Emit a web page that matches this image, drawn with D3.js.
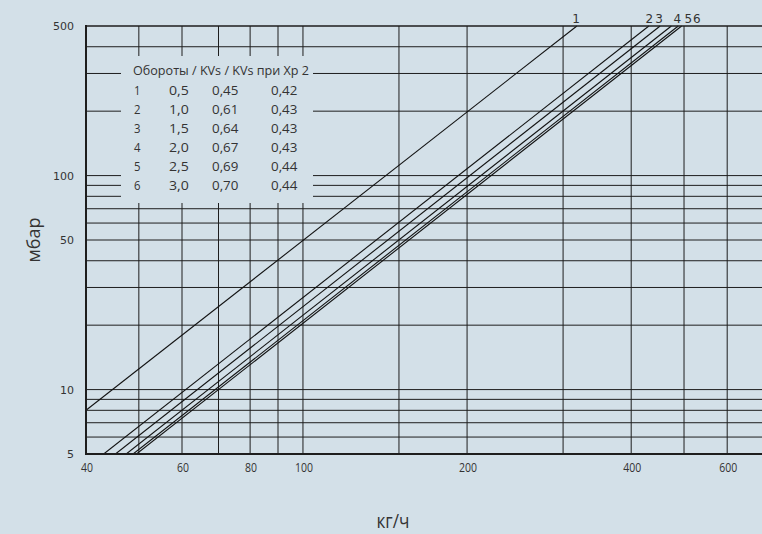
<!DOCTYPE html>
<html>
<head>
<meta charset="utf-8">
<script src="https://cdn.jsdelivr.net/npm/d3@7"></script>
<style>
  html, body { margin: 0; padding: 0; background: #d3e0e8; }
  svg { display: block; }
</style>
</head>
<body>
<svg id="chart" width="762" height="534"></svg>
<script>
// ---- data ----
const xDomain = [40, 695];          // кг/ч
const yDomain = [5, 500];           // мбар
const xGridValues = [50, 60, 70, 80, 90, 100, 150, 200, 300, 400, 500, 600];
const yGridValues = [6, 7, 8, 9, 10, 20, 30, 40, 50, 60, 70, 80, 90, 100, 200, 300, 400];
const xTickLabels = [40, 60, 80, 100, 200, 400, 600];
const yTickLabels = [5, 10, 50, 100, 500];

const seriesNames = ["1", "2", "3", "4", "5", "6"];
const series1 = [[40, 8.0], [318, 500]];
const series2 = [[43.1, 5], [431, 500]];
const series3 = [[45.3, 5], [452, 500]];
const series4 = [[47.4, 5], [474, 500]];
const series5 = [[48.8, 5], [488, 500]];
const series6 = [[49.5, 5], [495, 500]];
const seriesLabelQ = [317, 432, 450, 486, 509, 528];

const legendHeader = "Обороты / KVs / KVs при Xp 2";
const legendTurns = ["0,5", "1,0", "1,5", "2,0", "2,5", "3,0"];
const legendKvs = ["0,45", "0,61", "0,64", "0,67", "0,69", "0,70"];
const legendKvsXp2 = ["0,42", "0,43", "0,43", "0,43", "0,44", "0,44"];

const xTitle = "кг/ч";
const yTitle = "мбар";

// ---- drawing ----
const W = 762, H = 534;
const plot = { left: 86, right: 762, top: 26, bottom: 454 };
const bg = "#d3e0e8";
const ink = "#1e1e1e";
const textCol = "#333";

const svg = d3.select("#chart");
svg.append("rect").attr("width", W).attr("height", H).attr("fill", bg);

const x = d3.scaleLog().domain(xDomain).range([plot.left, plot.right]);
const y = d3.scaleLog().domain(yDomain).range([plot.bottom, plot.top]);

svg.append("defs").append("clipPath").attr("id", "plotclip")
  .append("rect").attr("x", plot.left).attr("y", plot.top - 1)
  .attr("width", plot.right - plot.left).attr("height", plot.bottom - plot.top + 1);

const grid = svg.append("g");
grid.selectAll("line.h").data(yGridValues).join("line")
  .attr("x1", plot.left).attr("x2", plot.right)
  .attr("y1", d => y(d)).attr("y2", d => y(d))
  .attr("stroke", ink).attr("stroke-width", 1);
grid.selectAll("line.v").data(xGridValues).join("line")
  .attr("x1", d => x(d)).attr("x2", d => x(d))
  .attr("y1", plot.top).attr("y2", plot.bottom)
  .attr("stroke", ink).attr("stroke-width", 1);

// legend panel hides the grid behind it
const legX0 = 121, legX1 = 313, legY0 = 56, legY1 = 203;
svg.append("rect").attr("x", legX0).attr("y", legY0)
  .attr("width", legX1 - legX0).attr("height", legY1 - legY0).attr("fill", bg);

// series lines
const allSeries = [series1, series2, series3, series4, series5, series6];
const lineGen = d3.line().x(d => x(d[0])).y(d => y(d[1]));
svg.append("g").attr("clip-path", "url(#plotclip)")
  .selectAll("path").data(allSeries).join("path")
  .attr("d", lineGen).attr("fill", "none")
  .attr("stroke", "#111").attr("stroke-width", 1.1);

// axes frame (left, bottom, top)
svg.append("line").attr("x1", plot.left).attr("x2", plot.left)
  .attr("y1", plot.top - 1).attr("y2", plot.bottom + 1)
  .attr("stroke", ink).attr("stroke-width", 2);
svg.append("line").attr("x1", plot.left - 1).attr("x2", plot.right)
  .attr("y1", plot.bottom).attr("y2", plot.bottom)
  .attr("stroke", ink).attr("stroke-width", 2);
svg.append("line").attr("x1", plot.left - 1).attr("x2", plot.right)
  .attr("y1", y(500)).attr("y2", y(500))
  .attr("stroke", ink).attr("stroke-width", 1.6);

// y tick labels
svg.append("g").selectAll("text").data(yTickLabels).join("text")
  .attr("x", 74).attr("y", d => y(d) + 4)
  .attr("text-anchor", "end")
  .attr("font-family", "DejaVu Sans, sans-serif").attr("font-size", 11)
  .attr("fill", textCol).text(d => d);

// x tick labels (condensed)
svg.append("g").selectAll("text").data(xTickLabels).join("text")
  .attr("x", d => x(d) + 1).attr("y", 472)
  .attr("text-anchor", "middle")
  .attr("font-family", "Open Sans, sans-serif").attr("font-size", 13)
  .attr("textLength", d => String(d).length * 6)
  .attr("lengthAdjust", "spacingAndGlyphs")
  .attr("fill", textCol).text(d => d);

// curve labels
svg.append("g").selectAll("text").data(seriesNames).join("text")
  .attr("x", (d, i) => x(seriesLabelQ[i])).attr("y", 23)
  .attr("text-anchor", "middle")
  .attr("font-family", "DejaVu Sans, sans-serif").attr("font-size", 12)
  .attr("fill", textCol).text(d => d);

// legend table
const lg = svg.append("g").attr("font-family", "Open Sans, sans-serif")
  .attr("font-size", 12.5).attr("fill", textCol);
lg.append("text").attr("x", 133).attr("y", 75)
  .attr("textLength", 176).attr("lengthAdjust", "spacingAndGlyphs")
  .text(legendHeader);
const rows = seriesNames.map((n, i) => [n, legendTurns[i], legendKvs[i], legendKvsXp2[i]]);
const colX = [134, 169, 212, 271];
rows.forEach((r, i) => {
  r.forEach((v, j) => {
    lg.append("text").attr("x", colX[j]).attr("y", 95 + i * 19)
      .attr("textLength", v.length === 1 ? 6.5 : v.length * 6.6)
      .attr("lengthAdjust", "spacingAndGlyphs")
      .text(v);
  });
});

// axis titles
svg.append("text").attr("transform", "translate(40,240) rotate(-90)")
  .attr("text-anchor", "middle")
  .attr("font-family", "Open Sans, sans-serif").attr("font-size", 18)
  .attr("fill", textCol).text(yTitle);
svg.append("text").attr("x", 393).attr("y", 528)
  .attr("text-anchor", "middle")
  .attr("font-family", "Open Sans, sans-serif").attr("font-size", 20)
  .attr("textLength", 33).attr("lengthAdjust", "spacingAndGlyphs")
  .attr("fill", textCol).text(xTitle);
</script>
</body>
</html>
